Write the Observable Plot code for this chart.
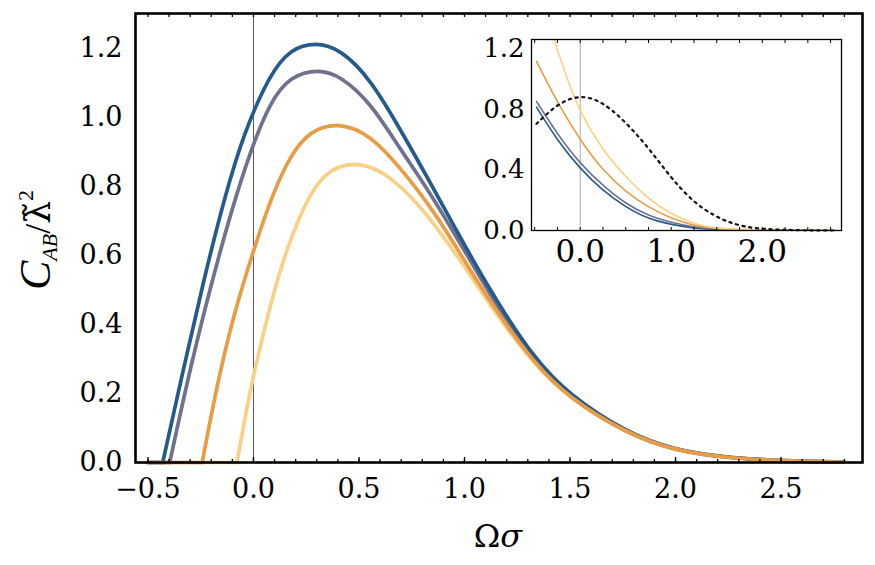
<!DOCTYPE html>
<html><head><meta charset="utf-8">
<script src="https://cdn.jsdelivr.net/npm/d3@7"></script>
<script src="https://cdn.jsdelivr.net/npm/@observablehq/plot@0.6"></script>
<style>
body{margin:0;background:#fff;}
#wrap{position:relative;width:875px;height:565px;background:#fff;}
#inset{position:absolute;left:471px;top:34px;}
</style></head><body>
<div id="wrap"><div id="main"></div><div id="inset"></div></div>
<script>
// ---- main panel data ----
const blueX = [-0.50, -0.43, -0.33, -0.236, -0.141, -0.046, 0.08, 0.175, 0.294, 0.412, 0.555, 0.697, 0.839, 1.013, 1.17, 1.328, 1.487, 1.77, 2.0, 2.25, 2.5, 2.8];
const blueY = [0, 0, 0.276, 0.528, 0.759, 0.955, 1.128, 1.198, 1.218, 1.198, 1.111, 0.964, 0.81, 0.614, 0.45, 0.305, 0.199, 0.085, 0.035, 0.014, 0.005, 0.001];
const grayX = [-0.50, -0.397, -0.299, -0.204, -0.109, -0.014, 0.08, 0.175, 0.31, 0.412, 0.555, 0.697, 0.839, 1.013, 1.17, 1.328, 1.487, 1.77, 2.0, 2.25, 2.5, 2.8];
const grayY = [0, 0, 0.276, 0.508, 0.721, 0.904, 1.046, 1.12, 1.14, 1.12, 1.043, 0.906, 0.781, 0.6, 0.436, 0.296, 0.192, 0.083, 0.034, 0.013, 0.005, 0.001];
const orangeX = [-0.50, -0.243, -0.172, -0.093, 0, 0.08, 0.175, 0.27, 0.40, 0.555, 0.697, 0.855, 1.013, 1.17, 1.328, 1.487, 1.77, 2.0, 2.25, 2.5, 2.8];
const orangeY = [0, 0, 0.228, 0.431, 0.614, 0.762, 0.892, 0.962, 0.986, 0.95, 0.853, 0.73, 0.571, 0.421, 0.291, 0.19, 0.083, 0.034, 0.013, 0.005, 0.001];
const lightX = [-0.50, -0.078, -0.014, 0.049, 0.12, 0.223, 0.333, 0.483, 0.618, 0.744, 0.855, 1.013, 1.17, 1.328, 1.487, 1.77, 2.0, 2.25, 2.5, 2.8];
const lightY = [0, 0, 0.218, 0.38, 0.55, 0.727, 0.845, 0.874, 0.843, 0.773, 0.694, 0.557, 0.412, 0.286, 0.189, 0.082, 0.033, 0.013, 0.005, 0.001];

// ---- inset data ----
const inBlueX = [-0.48, -0.245, 0, 0.245, 0.5, 0.745, 0.99, 1.245, 1.5, 2.0, 2.8];
const inBlueY = [0.816, 0.59, 0.408, 0.265, 0.154, 0.077, 0.04, 0.015, 0.005, 0.001, 0];
const inGrayX = [-0.48, -0.245, 0, 0.245, 0.5, 0.745, 0.99, 1.245, 1.5, 2.0, 2.8];
const inGrayY = [0.854, 0.632, 0.441, 0.298, 0.176, 0.099, 0.055, 0.022, 0.007, 0.001, 0];
const inOrangeX = [-0.48, -0.245, 0, 0.245, 0.5, 0.745, 0.99, 1.245, 1.5, 2.0, 2.8];
const inOrangeY = [1.119, 0.84, 0.596, 0.4, 0.255, 0.155, 0.082, 0.032, 0.01, 0.001, 0];
const inLightX = [-0.48, -0.286, -0.143, 0, 0.245, 0.5, 0.745, 0.99, 1.245, 1.48, 2.0, 2.8];
const inLightY = [1.62, 1.262, 1.0, 0.78, 0.53, 0.353, 0.21, 0.11, 0.044, 0.012, 0.001, 0];
const dotX = [-0.48, -0.245, 0, 0.245, 0.5, 0.745, 0.99, 1.245, 1.48, 1.63, 1.8, 2.0, 2.4, 2.8];
const dotY = [0.706, 0.842, 0.9, 0.854, 0.717, 0.552, 0.353, 0.185, 0.095, 0.055, 0.025, 0.009, 0.001, 0];

// ---- ticks ----
const xMajor = [-0.5, 0, 0.5, 1.0, 1.5, 2.0, 2.5];
const xMinor = d3.range(-5, 29).map(i => i / 10);
const yMajor = [0, 0.2, 0.4, 0.6, 0.8, 1.0, 1.2];
const inXMajor = [0, 1, 2];
const inXMinor = d3.range(-2, 12).map(i => i / 4);
const inYMajor = [0, 0.4, 0.8, 1.2];

const colors = {blue: "#255a8d", gray: "#6f718f", orange: "#e89c45", light: "#f9d085"};

const toRows = (xs, ys) => xs.map((x, i) => ({x, y: ys[i]}));
// split a series into its flat zero part and its curved part
function split(xs, ys) {
  const rows = toRows(xs, ys);
  let k = 0;
  while (k + 1 < rows.length && rows[k + 1].y === 0) k++;
  return [rows.slice(0, k + 1), rows.slice(k)];
}
const mainOrder = ["light", "gray", "blue", "orange"];
const mainData = {blue: [blueX, blueY], gray: [grayX, grayY], orange: [orangeX, orangeY], light: [lightX, lightY]};
const insetSeries = [
  ["blue", toRows(inBlueX, inBlueY)],
  ["gray", toRows(inGrayX, inGrayY)],
  ["orange", toRows(inOrangeX, inOrangeY)],
  ["light", toRows(inLightX, inLightY)]
];
const fmt = d3.format(".1f");
const blank = () => "";

const mainLines = mainOrder.flatMap(k => {
  const [flat, curve] = split(...mainData[k]);
  return [
    Plot.line(flat, {x: "x", y: "y", stroke: colors[k], strokeWidth: 3.7}),
    Plot.line(curve, {x: "x", y: "y", stroke: colors[k], strokeWidth: 3.7, curve: "basis", strokeLinejoin: "round"})
  ];
});

const main = Plot.plot({
  width: 875, height: 565,
  marginLeft: 135, marginRight: 13, marginTop: 13, marginBottom: 103,
  x: {domain: [-0.559, 2.886], label: null},
  y: {domain: [0, 1.301], label: null},
  style: {fontFamily: "DejaVu Serif", fontSize: "27px", background: "white", color: "black"},
  marks: [
    Plot.ruleX([0], {stroke: "#555", strokeWidth: 1}),
    ...mainLines,
    Plot.axisX({ticks: xMajor, tickSize: 0, tickPadding: 16, tickFormat: fmt, label: null}),
    Plot.axisX({ticks: xMinor, tickSize: 3, dy: -3, tickFormat: blank, label: null, strokeWidth: 1.3}),
    Plot.axisX({ticks: xMajor, tickSize: 5, dy: -5, tickFormat: blank, label: null, strokeWidth: 1.3}),
    Plot.axisX({anchor: "top", ticks: xMinor, tickSize: 3, dy: 3, tickFormat: blank, label: null, strokeWidth: 1.3}),
    Plot.axisY({ticks: yMajor, tickSize: 0, tickPadding: 13, tickFormat: fmt, label: null}),
    Plot.frame({stroke: "black", strokeWidth: 2.6})
  ]
});
document.getElementById("main").appendChild(main);

const svg = d3.select(main);
// y label
const yl = svg.append("text")
  .attr("transform", "translate(50,240) rotate(-90)")
  .attr("text-anchor", "middle")
  .attr("font-family", "Liberation Serif")
  .attr("fill", "black");
yl.append("tspan").attr("font-size", 44).attr("font-style", "italic").text("C");
yl.append("tspan").attr("font-size", 22).attr("font-style", "italic").attr("dy", 7).text("AB");
yl.append("tspan").attr("font-size", 36).attr("dy", -7).text("/");
yl.append("tspan").attr("font-size", 36).attr("font-family", "DejaVu Serif").text("λ\u0303");
yl.append("tspan").attr("font-size", 22).attr("dy", -17).text("2");
// x label
const xl = svg.append("text")
  .attr("x", 498).attr("y", 547)
  .attr("text-anchor", "middle")
  .attr("font-family", "DejaVu Serif")
  .attr("font-size", 32)
  .attr("fill", "black");
xl.append("tspan").text("Ω");
xl.append("tspan").attr("font-style", "italic").text("σ");

const inset = Plot.plot({
  width: 376, height: 232,
  marginLeft: 60, marginRight: 6, marginTop: 5, marginBottom: 36,
  x: {domain: [-0.535, 2.87], label: null},
  y: {domain: [0, 1.264], label: null},
  style: {fontFamily: "DejaVu Serif", fontSize: "26px", background: "transparent", color: "black", overflow: "visible"},
  marks: [
    Plot.ruleX([0], {stroke: "#aaa", strokeWidth: 1}),
    ...insetSeries.map(([k, rows]) => Plot.line(rows, {x: "x", y: "y", stroke: colors[k], strokeWidth: 1.6, curve: "basis", clip: true})),
    Plot.line(toRows(dotX, dotY), {x: "x", y: "y", stroke: "#111", strokeWidth: 2.2, strokeDasharray: "2.2,4.6", curve: "basis"}),
    Plot.axisX({ticks: inXMajor, tickSize: 0, tickPadding: 9, tickFormat: fmt, label: null, fontSize: 31}),
    Plot.axisX({ticks: inXMinor, tickSize: 3, dy: -3, tickFormat: blank, label: null}),
    Plot.axisX({anchor: "top", ticks: inXMinor, tickSize: 3, dy: 3, tickFormat: blank, label: null}),
    Plot.axisY({ticks: inYMajor, tickSize: 0, tickPadding: 7, tickFormat: fmt, label: null}),
    Plot.frame({stroke: "black", strokeWidth: 1.3})
  ]
});
document.getElementById("inset").appendChild(inset);
d3.select(inset).selectAll('g[aria-label^="x-axis tick label"] text').style("font-size", "31px");
</script>
</body></html>
